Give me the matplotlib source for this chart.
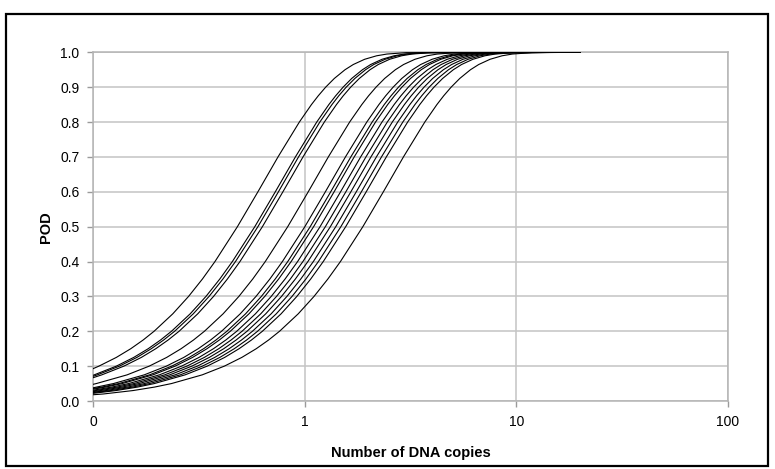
import matplotlib
matplotlib.use("Agg")
import matplotlib.pyplot as plt
from matplotlib.patches import Rectangle

plt.rcParams['font.family'] = ['Liberation Sans', 'DejaVu Sans']

pod_levels = [0.02, 0.03, 0.04, 0.05, 0.075, 0.1, 0.125, 0.15, 0.175, 0.2, 0.25, 0.3, 0.35, 0.4,
              0.5, 0.6, 0.7, 0.8, 0.85, 0.875, 0.9, 0.925, 0.95, 0.965, 0.98, 0.99, 0.995, 0.999]

# POD at the left edge of the axis (x = 0.1), one per curve
start_pod = [0.093, 0.074, 0.071, 0.067, 0.048, 0.038, 0.036, 0.034, 0.031, 0.029,
             0.027, 0.025, 0.024, 0.022, 0.018]

# copies where each curve passes the POD levels
curve_01 = [0.0284, 0.0394, 0.0498, 0.0598, 0.0836, 0.1063, 0.1285, 0.1504, 0.1721, 0.1938, 0.2375, 0.2821, 0.3281, 0.376, 0.48, 0.6, 0.7466, 0.9418, 1.074, 1.156, 1.254, 1.378, 1.548, 1.694, 1.917, 2.184, 2.443, 3.019]
curve_02 = [0.0343, 0.0476, 0.0602, 0.0722, 0.101, 0.1285, 0.1553, 0.1818, 0.208, 0.2342, 0.287, 0.3409, 0.3964, 0.4543, 0.58, 0.725, 0.9022, 1.138, 1.298, 1.397, 1.516, 1.665, 1.871, 2.047, 2.316, 2.639, 2.952, 3.648]
curve_03 = [0.0355, 0.0493, 0.0623, 0.0747, 0.1045, 0.1329, 0.1607, 0.188, 0.2152, 0.2423, 0.2969, 0.3526, 0.4101, 0.47, 0.6, 0.75, 0.9333, 1.177, 1.343, 1.445, 1.568, 1.723, 1.935, 2.117, 2.396, 2.73, 3.054, 3.774]
curve_04 = [0.0372, 0.0517, 0.0654, 0.0784, 0.1097, 0.1395, 0.1687, 0.1974, 0.2259, 0.2544, 0.3117, 0.3703, 0.4306, 0.4935, 0.63, 0.7875, 0.98, 1.236, 1.41, 1.517, 1.646, 1.809, 2.032, 2.223, 2.516, 2.866, 3.207, 3.963]
curve_05 = [0.0491, 0.0681, 0.0861, 0.1033, 0.1445, 0.1838, 0.2223, 0.2601, 0.2977, 0.3352, 0.4107, 0.4878, 0.5673, 0.6501, 0.83, 1.0375, 1.291, 1.628, 1.858, 1.999, 2.169, 2.383, 2.677, 2.929, 3.314, 3.776, 4.225, 5.221]
curve_06 = [0.0591, 0.0821, 0.1038, 0.1245, 0.1741, 0.2215, 0.2678, 0.3134, 0.3586, 0.4038, 0.4948, 0.5877, 0.6835, 0.7833, 1.0, 1.25, 1.5555, 1.962, 2.238, 2.408, 2.613, 2.871, 3.225, 3.529, 3.993, 4.55, 5.09, 6.29]
curve_07 = [0.0626, 0.087, 0.11, 0.132, 0.1845, 0.2348, 0.2839, 0.3322, 0.3801, 0.428, 0.5245, 0.623, 0.7245, 0.8303, 1.06, 1.325, 1.649, 2.08, 2.372, 2.553, 2.77, 3.043, 3.419, 3.741, 4.233, 4.823, 5.395, 6.667]
curve_08 = [0.065, 0.0903, 0.1141, 0.137, 0.1915, 0.2437, 0.2946, 0.3447, 0.3945, 0.4442, 0.5443, 0.6465, 0.7519, 0.8616, 1.1, 1.375, 1.711, 2.158, 2.462, 2.649, 2.874, 3.158, 3.548, 3.882, 4.392, 5.005, 5.599, 6.919]
curve_09 = [0.0697, 0.0969, 0.1224, 0.1469, 0.2054, 0.2614, 0.316, 0.3698, 0.4232, 0.4765, 0.5839, 0.6935, 0.8066, 0.9243, 1.18, 1.475, 1.835, 2.315, 2.641, 2.842, 3.083, 3.388, 3.806, 4.164, 4.712, 5.369, 6.006, 7.422]
curve_10 = [0.0739, 0.1026, 0.1297, 0.1556, 0.2176, 0.2769, 0.3348, 0.3918, 0.4483, 0.5048, 0.6186, 0.7346, 0.8544, 0.9791, 1.25, 1.5625, 1.944, 2.453, 2.798, 3.01, 3.266, 3.589, 4.031, 4.411, 4.991, 5.687, 6.363, 7.863]
curve_11 = [0.078, 0.1084, 0.137, 0.1643, 0.2298, 0.2924, 0.3535, 0.4137, 0.4734, 0.533, 0.6532, 0.7758, 0.9022, 1.034, 1.32, 1.65, 2.053, 2.59, 2.954, 3.179, 3.449, 3.79, 4.257, 4.658, 5.271, 6.005, 6.719, 8.303]
curve_12 = [0.0827, 0.1149, 0.1453, 0.1743, 0.2437, 0.3101, 0.3749, 0.4388, 0.5021, 0.5653, 0.6928, 0.8228, 0.9569, 1.097, 1.4, 1.75, 2.178, 2.747, 3.133, 3.371, 3.658, 4.019, 4.515, 4.94, 5.59, 6.369, 7.126, 8.806]
curve_13 = [0.0875, 0.1215, 0.1536, 0.1843, 0.2577, 0.3278, 0.3963, 0.4638, 0.5308, 0.5976, 0.7324, 0.8698, 1.0116, 1.159, 1.48, 1.85, 2.302, 2.904, 3.312, 3.564, 3.867, 4.249, 4.773, 5.223, 5.91, 6.733, 7.533, 9.309]
curve_14 = [0.0922, 0.1281, 0.1619, 0.1942, 0.2716, 0.3455, 0.4178, 0.4889, 0.5595, 0.6299, 0.772, 0.9168, 1.0663, 1.222, 1.56, 1.95, 2.427, 3.061, 3.491, 3.757, 4.076, 4.479, 5.031, 5.505, 6.229, 7.097, 7.94, 9.812]
curve_15 = [0.1111, 0.1543, 0.195, 0.2341, 0.3273, 0.4164, 0.5035, 0.5892, 0.6742, 0.7591, 0.9303, 1.105, 1.285, 1.473, 1.88, 2.35, 2.924, 3.689, 4.207, 4.527, 4.912, 5.397, 6.063, 6.634, 7.507, 8.553, 9.569, 11.83]

curves = [curve_01, curve_02, curve_03, curve_04, curve_05, curve_06, curve_07, curve_08,
          curve_09, curve_10, curve_11, curve_12, curve_13, curve_14, curve_15]

x_start = 0.1
x_end = 20
x_ticks = [0.1, 1, 10, 100]
x_tick_labels = ['0', '1', '10', '100']
y_ticks = [i / 10 for i in range(11)]

fig = plt.figure(figsize=(7.75, 4.69), dpi=100)
ax = fig.add_axes([93.3 / 775, 1 - 401 / 469, (728 - 93.3) / 775, (401 - 52.3) / 469])

for y0, xs in zip(start_pod, curves):
    px = [x_start]
    py = [y0]
    for x, y in zip(xs, pod_levels):
        if x > x_start:
            px.append(x)
            py.append(y)
    px.append(x_end)
    py.append(1.0)
    ax.plot(px, py, color='black', lw=0.8, zorder=3)

ax.set_xscale('log')
ax.set_xlim(0.1, 100)
ax.set_ylim(0, 1)
ax.set_xticks(x_ticks)
ax.set_xticklabels(x_tick_labels)
ax.xaxis.set_minor_locator(matplotlib.ticker.NullLocator())
ax.set_yticks(y_ticks)
ax.set_yticklabels(['%.1f' % v for v in y_ticks])

ax.grid(True, color='#c4c4c4', lw=1.1, zorder=0)
for s in ax.spines.values():
    s.set_color('#b4b4b4')
    s.set_linewidth(1.1)
ax.tick_params(axis='both', colors='#9a9a9a', length=4, width=1.0, labelsize=10,
               labelcolor='black')
ax.tick_params(axis='y', pad=6)
ax.tick_params(axis='x', pad=6)

ax.set_xlabel('Number of DNA copies', fontsize=10.5, fontweight='bold', labelpad=12)
ax.set_ylabel('POD', fontsize=10.5, fontweight='bold', labelpad=5)

fig.patches.append(Rectangle((6 / 775, 3 / 469), 762 / 775, 452 / 469,
                             transform=fig.transFigure, fill=False,
                             edgecolor='black', lw=1.6))

fig.savefig('out.png', dpi=100)
